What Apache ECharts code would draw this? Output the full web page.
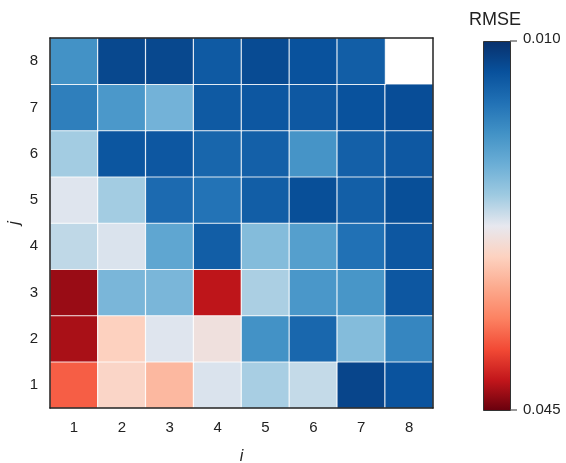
<!DOCTYPE html>
<html>
<head>
<meta charset="utf-8">
<script src="https://cdn.jsdelivr.net/npm/echarts@6/dist/echarts.min.js"></script>
<style>
html,body{margin:0;padding:0;background:#fff;}
#chart{width:566px;height:463px;}
</style>
</head>
<body>
<div id="chart"></div>
<script>
var iLabels=['1','2','3','4','5','6','7','8'];
var jLabels=['1','2','3','4','5','6','7','8'];
// RMSE per row j (1..8), values for i = 1..8 ; null = missing
var rowJ1=[0.0381,0.0300,0.0323,0.0270,0.0250,0.0261,0.0119,0.0131];
var rowJ2=[0.0429,0.0305,0.0272,0.0286,0.0188,0.0149,0.0231,0.0177];
var rowJ3=[0.0434,0.0225,0.0225,0.0422,0.0251,0.0193,0.0192,0.0135];
var rowJ4=[0.0259,0.0270,0.0208,0.0141,0.0231,0.0201,0.0158,0.0135];
var rowJ5=[0.0272,0.0248,0.0152,0.0160,0.0141,0.0127,0.0142,0.0127];
var rowJ6=[0.0248,0.0134,0.0135,0.0148,0.0143,0.0190,0.0143,0.0136];
var rowJ7=[0.0171,0.0194,0.0221,0.0137,0.0135,0.0136,0.0130,0.0126];
var rowJ8=[0.0188,0.0121,0.0121,0.0137,0.0124,0.0130,0.0141,null];
var rmseMin=0.010, rmseMax=0.045;
var cmap=['#08306b','#08519c','#2171b5','#4292c6','#6baed6','#9ecae1','#e7e8ef',
	'#fdd2c0','#fcaa8e','#fc8262','#f24a35','#c2161b','#67000d'];

var rows=[rowJ1,rowJ2,rowJ3,rowJ4,rowJ5,rowJ6,rowJ7,rowJ8];
var data=[];
rows.forEach(function(row,j){
	row.forEach(function(v,i){
		if (v!==null) data.push([i,j,v]);
	});
});

var stops=cmap.map(function(c,k){
	return {offset:k/(cmap.length-1),color:c};
});

var font='"Liberation Sans", Arial, sans-serif';
var dom=document.getElementById('chart');
var myChart=echarts.init(dom);
var option={
	animation:false,
	backgroundColor:'#fff',
	textStyle:{fontFamily:font},
	grid:{left:50,top:38,right:133,bottom:55,containLabel:false,outerBoundsMode:'none'},
	xAxis:[
		{
			type:'category',
			data:iLabels,
			z:10,
			name:'i',
			nameLocation:'middle',
			nameGap:41,
			nameMoveOverlap:false,
			nameTextStyle:{fontSize:16,fontStyle:'italic',color:'#222'},
			axisLine:{lineStyle:{color:'#222',width:1.5}},
			axisTick:{alignWithLabel:true,length:7,lineStyle:{color:'#222',width:1.5}},
			axisLabel:{fontSize:15,color:'#222',margin:12},
			splitLine:{show:false}
		},
		{
			type:'category',
			data:iLabels,
			position:'top',
			z:10,
			axisLine:{lineStyle:{color:'#222',width:1.5}},
			axisTick:{show:false},
			axisLabel:{show:false}
		}
	],
	yAxis:[
		{
			type:'category',
			data:jLabels,
			z:10,
			name:'j',
			nameLocation:'middle',
			nameGap:27,
			nameRotate:90,
			nameMoveOverlap:false,
			nameTextStyle:{fontSize:16,fontStyle:'italic',color:'#222'},
			axisLine:{lineStyle:{color:'#222',width:1.5}},
			axisTick:{alignWithLabel:true,length:7,lineStyle:{color:'#222',width:1.5}},
			axisLabel:{fontSize:15,color:'#222',margin:12},
			splitLine:{show:false}
		},
		{
			type:'category',
			data:jLabels,
			position:'right',
			z:10,
			axisLine:{lineStyle:{color:'#222',width:1.5}},
			axisTick:{show:false},
			axisLabel:{show:false}
		}
	],
	visualMap:{
		type:'continuous',
		show:false,
		min:rmseMin,
		max:rmseMax,
		inRange:{color:cmap}
	},
	graphic:[
		{type:'rect',left:483,top:41,z:100,
			shape:{width:27,height:369},
			style:{fill:new echarts.graphic.LinearGradient(0,0,0,1,stops),stroke:'#333',lineWidth:1}},
		{type:'line',z:100,shape:{x1:510,y1:41,x2:517,y2:41},style:{stroke:'#555',lineWidth:1.2}},
		{type:'line',z:100,shape:{x1:510,y1:410,x2:517,y2:410},style:{stroke:'#555',lineWidth:1.2}},
		{type:'text',left:523,top:31,style:{text:rmseMin.toFixed(3),fontSize:15,fill:'#222',fontFamily:font}},
		{type:'text',left:523,top:402,style:{text:rmseMax.toFixed(3),fontSize:15,fill:'#222',fontFamily:font}},
		{type:'text',left:469,top:11,style:{text:'RMSE',fontSize:18,fill:'#222',fontFamily:font}}
	],
	series:[
		{
			type:'heatmap',
			data:data,
			itemStyle:{borderColor:'rgba(255,255,255,0.85)',borderWidth:1.2},
			emphasis:{disabled:true}
		}
	]
};
myChart.setOption(option);
</script>
</body>
</html>
